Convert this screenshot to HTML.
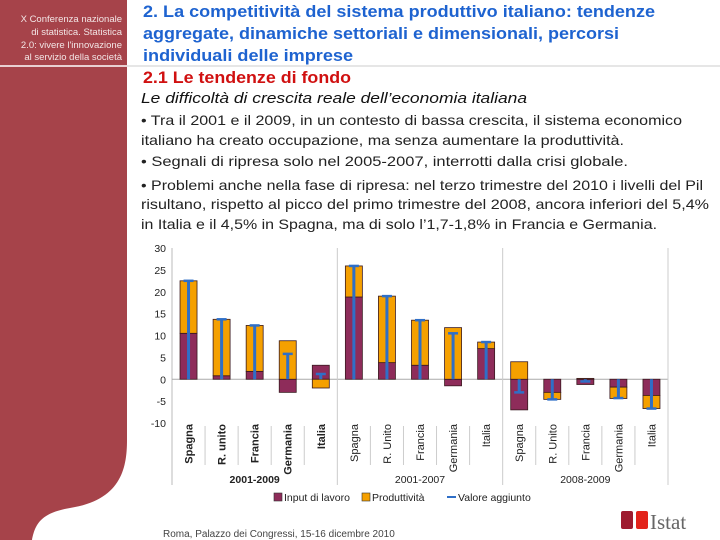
<!DOCTYPE html>
<html><head><meta charset="utf-8"><style>
html,body{margin:0;padding:0;background:#fff;}
svg{display:block;font-family:"Liberation Sans",sans-serif;}
</style></head><body>
<svg id="page" width="720" height="540" viewBox="0 0 720 540" xmlns="http://www.w3.org/2000/svg">
  <path d="M0 0 H127 V440 C127 470 120 500 70 508 C40 513 35 525 32 540 H0 Z" fill="#A6434A"/>
  <line x1="0" y1="66" x2="127" y2="66" stroke="#fff" stroke-width="1.5"/>
  <line x1="127" y1="66" x2="720" y2="66" stroke="#ccc" stroke-width="1"/>
  <g fill="#f3e6e6" font-size="9.5" text-anchor="end">
    <text x="122" y="22">X Conferenza nazionale</text>
    <text x="122" y="35">di statistica. Statistica</text>
    <text x="122" y="48">2.0: vivere l'innovazione</text>
    <text x="122" y="60">al servizio della società</text>
  </g>
  <g fill="#1E63D0" font-weight="bold" font-size="17">
    <text x="143" y="17" textLength="512" lengthAdjust="spacingAndGlyphs">2. La competitività del sistema produttivo italiano: tendenze</text>
    <text x="143" y="39" textLength="476" lengthAdjust="spacingAndGlyphs">aggregate, dinamiche settoriali e dimensionali, percorsi</text>
    <text x="143" y="61" textLength="210" lengthAdjust="spacingAndGlyphs">individuali delle imprese</text>
  </g>
  <text x="143" y="83" fill="#D01010" font-weight="bold" font-size="17" textLength="208" lengthAdjust="spacingAndGlyphs">2.1 Le tendenze di fondo</text>
  <text x="141" y="103" fill="#111" font-style="italic" font-size="15" textLength="386" lengthAdjust="spacingAndGlyphs">Le difficoltà di crescita reale dell’economia italiana</text>
  <g fill="#222" font-size="14">
    <text x="141" y="125" textLength="541" lengthAdjust="spacingAndGlyphs">• Tra il 2001 e il 2009, in un contesto di bassa crescita, il sistema economico</text>
    <text x="141" y="145" textLength="483" lengthAdjust="spacingAndGlyphs">italiano ha creato occupazione, ma senza aumentare la produttività.</text>
    <text x="141" y="166" textLength="487" lengthAdjust="spacingAndGlyphs">• Segnali di ripresa solo nel 2005-2007, interrotti dalla crisi globale.</text>
    <text x="141" y="190" textLength="562" lengthAdjust="spacingAndGlyphs">• Problemi anche nella fase di ripresa: nel terzo trimestre del 2010 i livelli del Pil</text>
    <text x="141" y="209" textLength="568" lengthAdjust="spacingAndGlyphs">risultano, rispetto al picco del primo trimestre del 2008, ancora inferiori del 5,4%</text>
    <text x="141" y="229" textLength="516" lengthAdjust="spacingAndGlyphs">in Italia e il 4,5% in Spagna, ma di solo l’1,7-1,8% in Francia e Germania.</text>
  </g>
  <g id="chart"></g>
  <text x="163" y="537" fill="#444" font-size="10">Roma, Palazzo dei Congressi, 15-16 dicembre 2010</text>
  <g>
    <rect x="621" y="511" width="12" height="18" rx="2" fill="#9E1B2F"/>
    <rect x="636" y="511" width="12" height="18" rx="2" fill="#E3231B"/>
    <text x="650" y="529" font-family="'Liberation Serif',serif" font-size="21" fill="#666">Istat</text>
  </g>
</svg>
<script>
const categories = ["Spagna","R. unito","Francia","Germania","Italia","Spagna","R. Unito","Francia","Germania","Italia","Spagna","R. Unito","Francia","Germania","Italia"];
const boldCats = [true,true,true,true,true,false,false,false,false,false,false,false,false,false,false];
const groups = ["2001-2009","2001-2007","2008-2009"];
const labourValues = [10.5,0.8,1.8,-3,3.2, 18.8,3.8,3.2,-1.5,7, -7,-3,-1.2,-1.8,-3.7];
const productivityValues = [12,12.9,10.5,8.8,-2, 7.1,15.2,10.3,11.8,1.5, 4,-1.6,0.2,-2.6,-3];
const valueAddedValues = [22.5,13.7,12.3,5.8,1.2, 25.9,19,13.5,10.5,8.5, -3,-4.6,-0.5,-4.3,-6.7];
const yTicks = [30,25,20,15,10,5,0,-5,-10];

const NS = "http://www.w3.org/2000/svg";
const chart = document.getElementById("chart");
const x0 = 172, x1 = 668, yTop = 248, yBot = 423;
const yMin = -10, yMax = 30;
const step = (x1 - x0) / categories.length;
const y = v => yBot - (v - yMin) / (yMax - yMin) * (yBot - yTop);
const xc = i => x0 + step * (i + 0.5);
function mk(tag, attrs, parent) {
  const e = document.createElementNS(NS, tag);
  for (const k in attrs) e.setAttribute(k, attrs[k]);
  (parent || chart).appendChild(e);
  return e;
}
let ax = mk("line", {x1:x0, y1:yTop, x2:x0, y2:485, stroke:"#bbb"});


yTicks.forEach(t => {
  const tx = mk("text", {x:x0 - 6, y:y(t) + 4, "text-anchor":"end", "font-size":"10.5", fill:"#222"});
  tx.textContent = t;
  
  
});
let zl = mk("line", {x1:x0, y1:y(0), x2:x1, y2:y(0), stroke:"#aaa"});


for (let i = 1; i < categories.length; i++) {
  const gx = x0 + step * i;
  const isGroup = i % 5 === 0;
  const l = mk("line", {x1:gx, y1:isGroup ? yTop : 426, x2:gx, y2:isGroup ? 485 : 465, stroke:"#ccc"});
  
  
}
let rl = mk("line", {x1:x1, y1:yTop, x2:x1, y2:485, stroke:"#ccc"});


const bw = 17;
function seg(i, a, b, color, name) {
  const top = y(Math.max(a, b)), bot = y(Math.min(a, b));
  const r = mk("rect", {x:xc(i) - bw/2, y:top, width:bw, height:Math.max(bot - top, 0.5), fill:color, stroke:"#3a1a20", "stroke-width":"0.8"});
  
  
}
categories.forEach((c, i) => {
  const L = labourValues[i], P = productivityValues[i];
  let pos = 0, neg = 0;
  [[L, "#8E2C5A", "bar-labour"], [P, "#F5A000", "bar-productivity"]].forEach(([v, col, nm]) => {
    if (v >= 0) { seg(i, pos, pos + v, col, nm); pos += v; }
    else { seg(i, neg, neg + v, col, nm); neg += v; }
  });
  const V = valueAddedValues[i];
  const vl = mk("line", {x1:xc(i), y1:y(0), x2:xc(i), y2:y(V), stroke:"#2F6FC7", "stroke-width":"3"});
  
  
  const cap = mk("line", {x1:xc(i) - 5, y1:y(V), x2:xc(i) + 5, y2:y(V), stroke:"#2F6FC7", "stroke-width":"2.5"});
  
  
  const t = mk("text", {transform:`translate(${xc(i) + 4},${424}) rotate(-90)`, "text-anchor":"end", "font-size":"11", fill:"#222", "font-weight":boldCats[i] ? "bold" : "normal"});
  t.textContent = c;
  
  
});
groups.forEach((g, k) => {
  const t = mk("text", {x:x0 + step * (5 * k + 2.5), y:483, "text-anchor":"middle", "font-size":"10.5", fill:"#222", "font-weight":k === 0 ? "bold" : "normal"});
  t.textContent = g;
  
  
});
const lg = mk("g", {});


mk("rect", {x:274, y:493, width:8, height:8, fill:"#8E2C5A", stroke:"#333", "stroke-width":"0.6"}, lg);
let t1 = mk("text", {x:284, y:501, "font-size":"10.5", fill:"#222"}, lg); t1.textContent = "Input di lavoro";
mk("rect", {x:362, y:493, width:8, height:8, fill:"#F5A000", stroke:"#333", "stroke-width":"0.6"}, lg);
let t2 = mk("text", {x:372, y:501, "font-size":"10.5", fill:"#222"}, lg); t2.textContent = "Produttività";
mk("line", {x1:447, y1:497, x2:456, y2:497, stroke:"#2F6FC7", "stroke-width":"2"}, lg);
let t3 = mk("text", {x:458, y:501, "font-size":"10.5", fill:"#222"}, lg); t3.textContent = "Valore aggiunto";
</script>
</body></html>
